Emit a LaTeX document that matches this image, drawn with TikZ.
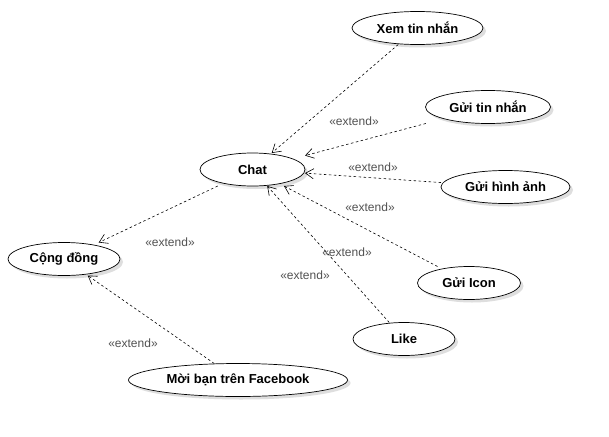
\documentclass[tikz,border=0pt]{standalone}
\usepackage{fontspec}
\setmainfont{Liberation Sans}
\usetikzlibrary{arrows.meta}
\tikzset{
  ucnode/.style={rectangle, inner sep=0pt, outer sep=0pt, minimum height=33pt, font=\fontsize{13}{15}\selectfont\bfseries, text=black},
  ucshape/.style={draw=black, line width=0.7pt, fill=white},
  ucshadow/.style={fill=black!13},
  extline/.style={draw=black, line width=0.6pt, dash pattern=on 2.5pt off 2.5pt, -{Straight Barb[length=8pt,width=10pt,line width=0.6pt]}},
  extlabel/.style={font=\fontsize{12}{14}\selectfont, text=black!68, inner sep=0pt}
}
\newcommand\ucase[5]{% name, x, y, width, text
  \fill[ucshadow] (#2+3,#3+3) ellipse [x radius=#4/2, y radius=16.5];
  \draw[ucshape] (#2,#3) ellipse [x radius=#4/2, y radius=16.5];
  \node[ucnode, minimum width=#4pt] (#1) at (#2,#3) {#5};
}
\begin{document}
\begin{tikzpicture}[x=1pt,y=-1pt]
\useasboundingbox[fill=white] (0,0) rectangle (609,436);
\ucase{xem}{417.5}{28}{131}{Xem tin nhắn}
\ucase{guitin}{488}{107}{125}{Gửi tin nhắn}
\ucase{chat}{252.5}{169.5}{105}{Chat}
\ucase{guihinh}{505.5}{187}{129}{Gửi hình ảnh}
\ucase{congdong}{64}{259}{112}{Cộng đồng}
\ucase{icon}{469}{283}{103}{Gửi Icon}
\ucase{like}{404}{339}{102}{Like}
\ucase{moiban}{238}{380}{219}{Mời bạn trên Facebook}

\draw[extline] (xem) -- (chat);
\draw[extline] (guitin) -- (chat);
\draw[extline] (guihinh) -- (chat);
\draw[extline] (icon) -- (chat);
\draw[extline] (like) -- (chat);
\draw[extline] (chat) -- (congdong);
\draw[extline] (moiban) -- (congdong);

\node[extlabel] (l1) at (354,121) {«extend»};
\node[extlabel] (l2) at (373,167) {«extend»};
\node[extlabel] (l3) at (370,207) {«extend»};
\node[extlabel] (l4) at (170,242) {«extend»};
\node[extlabel] (l5) at (347,252) {«extend»};
\node[extlabel] (l6) at (305,275) {«extend»};
\node[extlabel] (l7) at (133,343) {«extend»};
\end{tikzpicture}
\end{document}
